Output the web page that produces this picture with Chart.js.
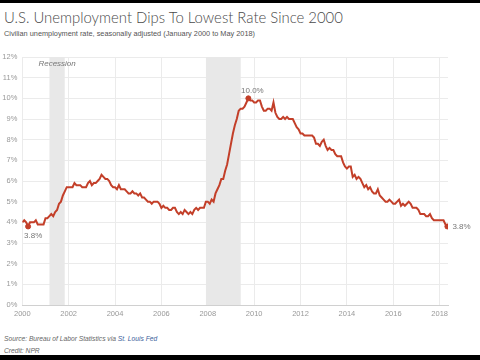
<!DOCTYPE html>
<html>
<head>
<meta charset="utf-8">
<script src="https://cdn.jsdelivr.net/npm/chart.js@4/dist/chart.umd.min.js"></script>
<style>
  html, body { margin: 0; padding: 0; }
  body { width: 480px; height: 360px; background: #000; position: relative; overflow: hidden; }
  .page { position: absolute; left: 0; top: 3px; width: 480px; height: 352px; background: #fff; }
  .title { position: absolute; left: 4px; top: 5px; font-family: Lato, sans-serif; font-weight: 300; font-size: 14.9px; color: #4a4a4a; white-space: nowrap; }
  .subtitle { position: absolute; left: 4px; top: 26px; font-family: "Liberation Sans", Arial, sans-serif; font-size: 7.35px; color: #555; white-space: nowrap; }
  .source { position: absolute; left: 4px; font-family: "Liberation Sans", Arial, sans-serif; font-style: italic; font-size: 6.7px; color: #666; white-space: nowrap; }
  .source a { color: #3b5e9a; text-decoration: none; }
  canvas { position: absolute; left: 0; top: 0; }
</style>
</head>
<body>
<div class="page">
  <div class="title">U.S. Unemployment Dips To Lowest Rate Since 2000</div>
  <div class="subtitle">Civilian unemployment rate, seasonally adjusted (January 2000 to May 2018)</div>
  <div class="source" style="top:332px">Source: Bureau of Labor Statistics via <a>St. Louis Fed</a></div>
  <div class="source" style="top:344px">Credit: NPR</div>
</div>
<canvas id="chart" width="480" height="360"></canvas>
<script>
// monthly rate, one row per year, starting January 2000
const startYear = 2000;
const unemploymentRate = [
  4.0, 4.1, 4.0, 3.8, 4.0, 4.0, 4.0, 4.1, 3.9, 3.9, 3.9, 3.9,
  4.2, 4.2, 4.3, 4.4, 4.3, 4.5, 4.6, 4.9, 5.0, 5.3, 5.5, 5.7,
  5.7, 5.7, 5.7, 5.9, 5.8, 5.8, 5.8, 5.7, 5.7, 5.7, 5.9, 6.0,
  5.8, 5.9, 5.9, 6.0, 6.1, 6.3, 6.2, 6.1, 6.1, 6.0, 5.8, 5.7,
  5.7, 5.6, 5.8, 5.6, 5.6, 5.6, 5.5, 5.4, 5.4, 5.5, 5.4, 5.4,
  5.3, 5.4, 5.2, 5.2, 5.1, 5.0, 5.0, 4.9, 5.0, 5.0, 5.0, 4.9,
  4.7, 4.8, 4.7, 4.7, 4.6, 4.6, 4.7, 4.7, 4.5, 4.4, 4.5, 4.4,
  4.6, 4.5, 4.4, 4.5, 4.4, 4.6, 4.7, 4.6, 4.7, 4.7, 4.7, 5.0,
  5.0, 4.9, 5.1, 5.0, 5.4, 5.6, 5.8, 6.1, 6.1, 6.5, 6.8, 7.3,
  7.8, 8.3, 8.7, 9.0, 9.4, 9.5, 9.5, 9.6, 9.8, 10.0, 9.9, 9.9,
  9.8, 9.8, 9.9, 9.9, 9.6, 9.4, 9.4, 9.5, 9.5, 9.4, 9.8, 9.3,
  9.1, 9.0, 9.0, 9.1, 9.0, 9.1, 9.0, 9.0, 9.0, 8.8, 8.6, 8.5,
  8.3, 8.3, 8.2, 8.2, 8.2, 8.2, 8.2, 8.1, 7.8, 7.8, 7.7, 7.9,
  8.0, 7.7, 7.5, 7.6, 7.5, 7.5, 7.3, 7.2, 7.2, 7.2, 6.9, 6.7,
  6.6, 6.7, 6.7, 6.2, 6.3, 6.1, 6.2, 6.1, 5.9, 5.7, 5.8, 5.6,
  5.7, 5.5, 5.4, 5.4, 5.6, 5.3, 5.2, 5.1, 5.0, 5.0, 5.1, 5.0,
  4.9, 4.9, 5.0, 5.1, 4.8, 4.9, 4.8, 4.9, 5.0, 4.9, 4.7, 4.7,
  4.7, 4.6, 4.4, 4.4, 4.4, 4.3, 4.3, 4.4, 4.2, 4.1, 4.1, 4.1,
  4.1, 4.1, 4.1, 3.9, 3.8
];

// recessions as [start, end] in decimal years
const recessions = [[2001.17, 2001.83], [2007.92, 2009.42]];
const yearTicks = [2000, 2002, 2004, 2006, 2008, 2010, 2012, 2014, 2016, 2018];
const percentTicks = [0, 1, 2, 3, 4, 5, 6, 7, 8, 9, 10, 11, 12];

// highlighted months: index into unemploymentRate + label placement
const highlightIdx = [3, 117, 220];
const highlightPos = ["below", "above", "right"];

const lineColor = "#c33f29";
const monthX = (i) => startYear + i / 12;

const lineData = unemploymentRate.map((v, i) => ({ x: monthX(i), y: v }));
const dotData = highlightIdx.map((i) => ({ x: monthX(i), y: unemploymentRate[i] }));

const recessionPlugin = {
    id: "recessions",
    beforeDatasetsDraw(chart) {
        const { ctx, chartArea, scales } = chart;
        ctx.save();
        ctx.fillStyle = "#e8e8e8";
        recessions.forEach(([a, b]) => {
            const x1 = scales.x.getPixelForValue(a);
            const x2 = scales.x.getPixelForValue(b);
            ctx.fillRect(x1, chartArea.top, x2 - x1, chartArea.bottom - chartArea.top);
        });
        const cx = (scales.x.getPixelForValue(recessions[0][0]) + scales.x.getPixelForValue(recessions[0][1])) / 2;
        ctx.font = "italic 8px 'Liberation Sans', Arial, sans-serif";
        ctx.fillStyle = "#777";
        ctx.textAlign = "center";
        ctx.textBaseline = "middle";
        ctx.fillText("Recession", cx, chartArea.top + 7);
        ctx.restore();
    },
};

const labelPlugin = {
    id: "pointLabels",
    afterDatasetsDraw(chart) {
        const { ctx } = chart;
        const meta = chart.getDatasetMeta(1);
        ctx.save();
        ctx.font = "8px 'Liberation Sans', Arial, sans-serif";
        ctx.fillStyle = "#777";
        meta.data.forEach((pt, k) => {
            const text = dotData[k].y.toFixed(1) + "%";
            const pos = highlightPos[k];
            if (pos === "below") {
                ctx.textAlign = "left";
                ctx.textBaseline = "top";
                ctx.fillText(text, pt.x - 4, pt.y + 5);
            } else if (pos === "above") {
                ctx.textAlign = "center";
                ctx.textBaseline = "bottom";
                ctx.fillText(text, pt.x + 4, pt.y - 4);
            } else {
                ctx.textAlign = "left";
                ctx.textBaseline = "middle";
                ctx.fillText(text, pt.x + 5, pt.y);
            }
        });
        ctx.restore();
    },
};

new Chart(document.getElementById("chart"), {
    type: "line",
    data: {
        datasets: [
            {
                data: lineData,
                borderColor: lineColor,
                borderWidth: 2,
                pointRadius: 0,
                tension: 0,
            },
            {
                type: "scatter",
                data: dotData,
                backgroundColor: lineColor,
                borderColor: lineColor,
                pointRadius: 2.5,
            },
        ],
    },
    options: {
        responsive: false,
        animation: false,
        layout: { padding: { left: 0, top: 57, right: 32, bottom: 35 } },
        plugins: {
            legend: { display: false },
            tooltip: { enabled: false },
        },
        scales: {
            x: {
                type: "linear",
                min: 2000,
                max: 2018.36,
                afterBuildTicks: (scale) => { scale.ticks = yearTicks.map((v) => ({ value: v })); },
                afterFit: (scale) => { scale.height = 20; },
                grid: { color: "#ebebeb", drawTicks: false },
                border: { color: "#d0d0d0" },
                ticks: {
                    padding: 4,
                    color: "#999",
                    font: { family: "'Liberation Sans', Arial, sans-serif", size: 7.5 },
                    callback: (v) => String(v),
                },
            },
            y: {
                min: 0,
                max: 12,
                afterBuildTicks: (scale) => { scale.ticks = percentTicks.map((v) => ({ value: v })); },
                afterFit: (scale) => { scale.width = 22.3; },
                grid: { color: "#ebebeb", drawTicks: false },
                border: { display: false },
                ticks: {
                    padding: 5,
                    color: "#999",
                    font: { family: "'Liberation Sans', Arial, sans-serif", size: 7.5 },
                    callback: (v) => v + "%",
                },
            },
        },
    },
    plugins: [recessionPlugin, labelPlugin],
});
</script>
</body>
</html>
